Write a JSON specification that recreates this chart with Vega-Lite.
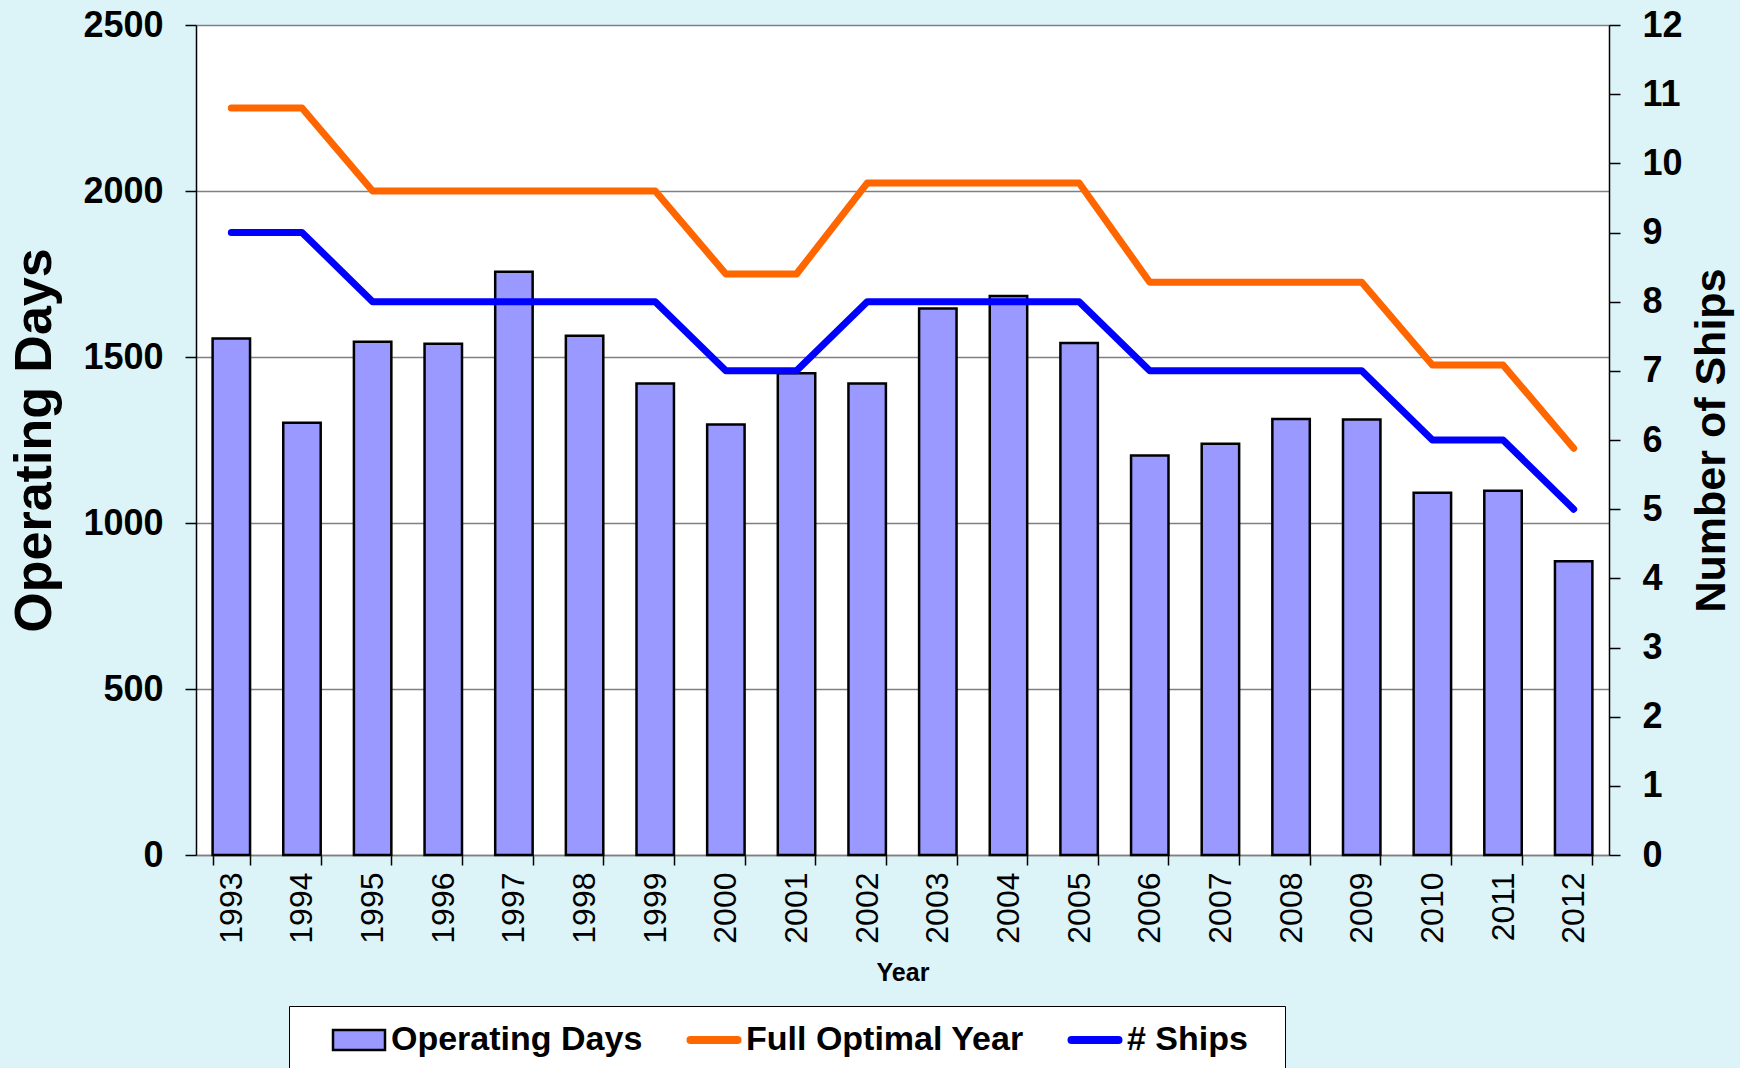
{
  "$schema": "https://vega.github.io/schema/vega-lite/v6.json",
  "width": 1413,
  "height": 830,
  "autosize": {"type": "none"},
  "padding": {"left": 196, "top": 25, "right": 131, "bottom": 213},
  "background": "#DCF4F8",
  "config": {"view": {"fill": "white", "stroke": null}, "font": "Liberation Sans"},
  "data": {
    "values": [
      {"Year": 1993, "Days": 1556, "Optimal": 2250, "Ships": 9},
      {"Year": 1994, "Days": 1302, "Optimal": 2250, "Ships": 9},
      {"Year": 1995, "Days": 1546, "Optimal": 2000, "Ships": 8},
      {"Year": 1996, "Days": 1540, "Optimal": 2000, "Ships": 8},
      {"Year": 1997, "Days": 1757, "Optimal": 2000, "Ships": 8},
      {"Year": 1998, "Days": 1564, "Optimal": 2000, "Ships": 8},
      {"Year": 1999, "Days": 1420, "Optimal": 2000, "Ships": 8},
      {"Year": 2000, "Days": 1297, "Optimal": 1750, "Ships": 7},
      {"Year": 2001, "Days": 1451, "Optimal": 1750, "Ships": 7},
      {"Year": 2002, "Days": 1420, "Optimal": 2024, "Ships": 8},
      {"Year": 2003, "Days": 1646, "Optimal": 2024, "Ships": 8},
      {"Year": 2004, "Days": 1684, "Optimal": 2024, "Ships": 8},
      {"Year": 2005, "Days": 1542, "Optimal": 2024, "Ships": 8},
      {"Year": 2006, "Days": 1203, "Optimal": 1725, "Ships": 7},
      {"Year": 2007, "Days": 1239, "Optimal": 1725, "Ships": 7},
      {"Year": 2008, "Days": 1313, "Optimal": 1725, "Ships": 7},
      {"Year": 2009, "Days": 1312, "Optimal": 1725, "Ships": 7},
      {"Year": 2010, "Days": 1091, "Optimal": 1476, "Ships": 6},
      {"Year": 2011, "Days": 1097, "Optimal": 1476, "Ships": 6},
      {"Year": 2012, "Days": 885, "Optimal": 1225, "Ships": 5}
    ]
  },
  "encoding": {
    "x": {
      "field": "Year",
      "type": "ordinal",
      "title": "Year",
      "scale": {"paddingInner": 0.47, "paddingOuter": 0.235},
      "axis": {
        "labelAngle": -90,
        "labelFontSize": 32,
        "labelColor": "black",
        "labelPadding": 7,
        "tickBand": "extent",
        "tickSize": 10,
        "tickColor": "black",
        "tickWidth": 1.5,
        "domainColor": "#808080",
        "domainWidth": 1.5,
        "titleFontSize": 25,
        "titleFontWeight": "bold",
        "titleColor": "black",
        "titlePadding": 17,
        "grid": false
      }
    }
  },
  "layer": [
    {
      "layer": [
        {
          "mark": {"type": "bar", "filled": false, "fill": "#9999FF", "strokeWidth": 2.5},
          "encoding": {
            "y": {
              "field": "Days",
              "type": "quantitative",
              "title": "Operating Days",
              "scale": {"domain": [0, 2500], "nice": false},
              "axis": {
                "values": [0, 500, 1000, 1500, 2000, 2500],
                "format": "d",
                "grid": true,
                "gridColor": "#808080",
                "gridWidth": 1.5,
                "domainColor": "black",
                "domainWidth": 1.5,
                "tickColor": "black",
                "tickSize": 11,
                "tickWidth": 1.5,
                "labelFontSize": 36,
                "labelFontWeight": "bold",
                "labelColor": "black",
                "labelPadding": 22,
                "titleFontSize": 52,
                "titleFontWeight": "bold",
                "titleColor": "black",
                "titlePadding": 21
              }
            },
            "color": {
              "datum": "Operating Days",
              "scale": {
                "domain": ["Operating Days", "Full Optimal Year", "# Ships"],
                "range": ["black", "#FF6600", "#0000FF"]
              },
              "legend": {
                "orient": "none",
                "legendX": 93,
                "legendY": 981,
                "direction": "horizontal",
                "title": ".",
                "titleOrient": "right",
                "titleColor": "white",
                "titleFontSize": 10,
                "titlePadding": 17,
                "labelFontSize": 34,
                "labelFontWeight": "bold",
                "labelColor": "black",
                "labelLimit": 500,
                "symbolSize": 400,
                "symbolOffset": 36,
                "labelOffset": 15,
                "columnPadding": 18,
                "padding": 17,
                "strokeColor": "black",
                "fillColor": "white",
                "encoding": {
                  "symbols": {
                    "shape": {"value": {"expr": "datum.value === 'Operating Days' ? 'M-2.6,-1H2.6V1H-2.6Z' : 'M-2.35,0H2.35'"}},
                    "fill": {"value": {"expr": "datum.value === 'Operating Days' ? '#9999FF' : 'transparent'"}},
                    "strokeWidth": {"value": {"expr": "datum.value === 'Operating Days' ? 2.5 : 8"}},
                    "strokeCap": {"value": "round"},
                    "opacity": {"value": 1}
                  }
                }
              }
            }
          }
        },
        {
          "mark": {"type": "line", "strokeWidth": 7, "strokeCap": "round", "strokeJoin": "round"},
          "encoding": {
            "y": {"field": "Optimal", "type": "quantitative", "title": "Operating Days"},
            "color": {"datum": "Full Optimal Year", "legend": null}
          }
        }
      ]
    },
    {
      "mark": {"type": "line", "strokeWidth": 7, "strokeCap": "round", "strokeJoin": "round"},
      "encoding": {
        "y": {
          "field": "Ships",
          "type": "quantitative",
          "title": "Number of Ships",
          "scale": {"domain": [0, 12], "nice": false},
          "axis": {
            "orient": "right",
            "values": [0, 1, 2, 3, 4, 5, 6, 7, 8, 9, 10, 11, 12],
            "grid": false,
            "domainColor": "black",
            "domainWidth": 1.5,
            "tickColor": "black",
            "tickSize": 11,
            "tickWidth": 1.5,
            "labelFontSize": 36,
            "labelFontWeight": "bold",
            "labelColor": "black",
            "labelPadding": 22,
            "titleFontSize": 43,
            "titleFontWeight": "bold",
            "titleColor": "black",
            "titleAngle": -90,
            "titleBaseline": "top",
            "titlePadding": 8
          }
        },
        "color": {"datum": "# Ships", "legend": null}
      }
    }
  ],
  "resolve": {"scale": {"y": "independent"}}
}
